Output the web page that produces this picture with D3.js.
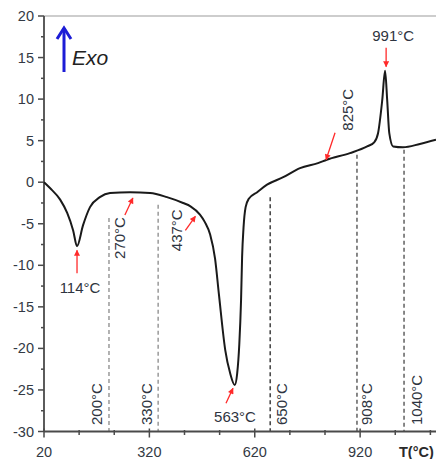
<!DOCTYPE html>
<html>
<head>
<meta charset="utf-8">
<script src="https://cdn.jsdelivr.net/npm/d3@7"></script>
<style>
  body { margin: 0; background: #fff; }
  svg { display: block; font-family: "Liberation Sans", Arial, sans-serif; }
</style>
</head>
<body>
<svg width="436" height="459"></svg>
<script>
// DTA curve
const temps = [20, 37, 66, 86, 103, 114, 131, 151, 179, 208, 265, 322, 370, 416, 437, 464, 478, 493, 507, 518, 536, 550, 563, 570, 576, 581, 584, 588, 594, 603, 627, 655, 701, 749, 800, 825, 891, 940, 960, 971, 983, 991, 997, 1003, 1014, 1042, 1090, 1136];
const heatFlow = [0, -0.7, -2.1, -3.7, -5.8, -7.7, -5.2, -3.0, -1.8, -1.3, -1.2, -1.3, -1.8, -2.5, -2.9, -3.9, -4.8, -6.3, -9.2, -13.5, -20.2, -23.0, -24.4, -23.0, -19.5, -14.2, -9.0, -5.5, -3.0, -2.0, -1.2, -0.3, 0.6, 1.7, 2.3, 2.7, 3.5, 4.3, 4.8, 5.9, 9.9, 13.4, 9.9, 5.9, 4.3, 4.2, 4.6, 5.1];

// peak labels with red arrows (tip position in data units)
const peakLabels = ["114°C", "270°C", "437°C", "563°C", "825°C", "991°C"];
const peakTipT = [114, 273, 451, 558, 823, 994];
const peakTipV = [-8.2, -1.9, -4.1, -24.8, 2.7, 13.9];

// dashed transition lines
const markLabels = ["200°C", "330°C", "650°C", "908°C", "1040°C"];
const markT = [205, 345, 664, 911, 1045];
const markTopV = [-4.3, -2.7, -1.8, 3.3, 3.9];

// axis ticks
const xMajor = [20, 320, 620, 920];
const xMinor = [120, 220, 420, 520, 720, 820, 1020, 1120];
const yMajor = [20, 15, 10, 5, 0, -5, -10, -15, -20, -25, -30];
const yMinor = [17.5, 12.5, 7.5, 2.5, -2.5, -7.5, -12.5, -17.5, -22.5, -27.5];

// layout (pixels) for the annotations
const peakLayout = [
  { tail: [0, 23], label: [3, 37], rot: false },
  { tail: [-8, 17], label: [-13, 40], rot: true },
  { tail: [-10, 14], label: [-19, 14], rot: true },
  { tail: [-7, 15], label: [2, 28], rot: false },
  { tail: [9, -27], label: [21, -50], rot: true },
  { tail: [0, -19], label: [7, -31], rot: false }
];
const markLabelDx = [-12, -12, 11, 10, 12];
const markColor = ["#a0a0a0", "#a0a0a0", "#4a4a4a", "#6a6a6a", "#6a6a6a"];

const svg = d3.select("svg");
const x = d3.scaleLinear().domain([20, 1136]).range([44, 436]);
const y = d3.scaleLinear().domain([-30, 20]).range([431.5, 16]);

const defs = svg.append("defs");
defs.append("marker")
    .attr("id", "redhead")
    .attr("viewBox", "0 0 10 10")
    .attr("refX", 9).attr("refY", 5)
    .attr("markerWidth", 8).attr("markerHeight", 6)
    .attr("markerUnits", "userSpaceOnUse")
    .attr("orient", "auto")
    .append("path")
    .attr("d", "M0,0 L10,5 L0,10 Z")
    .attr("fill", "#ff2a2a");

// top frame line
svg.append("line")
    .attr("x1", x(20)).attr("x2", 436)
    .attr("y1", y(20)).attr("y2", y(20))
    .attr("stroke", "#bdbdbd").attr("stroke-width", 1.5);

// dashed lines + labels
markT.forEach((t, i) => {
  svg.append("line")
      .attr("x1", x(t)).attr("x2", x(t))
      .attr("y1", y(markTopV[i])).attr("y2", y(-30))
      .attr("stroke", markColor[i])
      .attr("stroke-width", 1.6)
      .attr("stroke-dasharray", "4,3");
  svg.append("text")
      .attr("transform", `translate(${x(t) + markLabelDx[i]},425) rotate(-90)`)
      .attr("text-anchor", "start")
      .attr("dominant-baseline", "central")
      .attr("font-size", 15)
      .attr("fill", "#2e3440")
      .text(markLabels[i]);
});

// axes
const axisColor = "#4a4a4a";
svg.append("line")
    .attr("x1", x(20)).attr("x2", x(20))
    .attr("y1", y(20)).attr("y2", y(-30))
    .attr("stroke", axisColor).attr("stroke-width", 1.8);
svg.append("line")
    .attr("x1", x(20)).attr("x2", 436)
    .attr("y1", y(-30)).attr("y2", y(-30))
    .attr("stroke", axisColor).attr("stroke-width", 1.8);

svg.selectAll(".ymaj").data(yMajor).enter().append("line")
    .attr("x1", x(20) - 6).attr("x2", x(20))
    .attr("y1", d => y(d)).attr("y2", d => y(d))
    .attr("stroke", axisColor).attr("stroke-width", 1.5);
svg.selectAll(".ymin").data(yMinor).enter().append("line")
    .attr("x1", x(20) - 3).attr("x2", x(20))
    .attr("y1", d => y(d)).attr("y2", d => y(d))
    .attr("stroke", axisColor).attr("stroke-width", 1.5);
svg.selectAll(".ylab").data(yMajor).enter().append("text")
    .attr("x", 34).attr("y", d => y(d))
    .attr("text-anchor", "end")
    .attr("dominant-baseline", "central")
    .attr("font-size", 14.5)
    .attr("fill", "#333a44")
    .text(d => d);

svg.selectAll(".xmaj").data(xMajor).enter().append("line")
    .attr("x1", d => x(d)).attr("x2", d => x(d))
    .attr("y1", y(-30) - 3).attr("y2", y(-30) + 6)
    .attr("stroke", axisColor).attr("stroke-width", 1.5);
svg.selectAll(".xmin").data(xMinor).enter().append("line")
    .attr("x1", d => x(d)).attr("x2", d => x(d))
    .attr("y1", y(-30) - 1.5).attr("y2", y(-30) + 3.5)
    .attr("stroke", axisColor).attr("stroke-width", 1.5);
svg.selectAll(".xlab").data(xMajor).enter().append("text")
    .attr("x", d => x(d)).attr("y", 457)
    .attr("text-anchor", "middle")
    .attr("font-size", 14.5)
    .attr("fill", "#333a44")
    .text(d => d);
svg.append("text")
    .attr("x", 399).attr("y", 457)
    .attr("font-size", 14.5)
    .attr("font-weight", "bold")
    .attr("fill", "#2a2a2a")
    .text("T(°C)");

// curve
const pts = temps.map((t, i) => [t, heatFlow[i]]);
svg.append("path")
    .datum(pts)
    .attr("fill", "none")
    .attr("stroke", "#1a1a1a")
    .attr("stroke-width", 2)
    .attr("d", d3.line().x(d => x(d[0])).y(d => y(d[1])).curve(d3.curveMonotoneX));

// peak arrows + labels
peakLabels.forEach((lab, i) => {
  const tx = x(peakTipT[i]), ty = y(peakTipV[i]);
  const L = peakLayout[i];
  svg.append("line")
      .attr("x1", tx + L.tail[0]).attr("y1", ty + L.tail[1])
      .attr("x2", tx).attr("y2", ty)
      .attr("stroke", "#ff2a2a").attr("stroke-width", 1.3)
      .attr("marker-end", "url(#redhead)");
  const cx = tx + L.label[0], cy = ty + L.label[1];
  svg.append("text")
      .attr("transform", L.rot ? `translate(${cx},${cy}) rotate(-90)` : `translate(${cx},${cy})`)
      .attr("text-anchor", "middle")
      .attr("dominant-baseline", "central")
      .attr("font-size", 15)
      .attr("fill", "#2e3440")
      .text(lab);
});

// Exo arrow
svg.append("line")
    .attr("x1", 64).attr("x2", 64).attr("y1", 72).attr("y2", 28)
    .attr("stroke", "#1c1cd6").attr("stroke-width", 3);
svg.append("path")
    .attr("d", "M57,39 L64,28 L71,39")
    .attr("fill", "none").attr("stroke", "#1c1cd6").attr("stroke-width", 3);
svg.append("text")
    .attr("x", 72).attr("y", 65)
    .attr("font-size", 21)
    .attr("font-style", "italic")
    .attr("fill", "#222")
    .text("Exo");
</script>
</body>
</html>
